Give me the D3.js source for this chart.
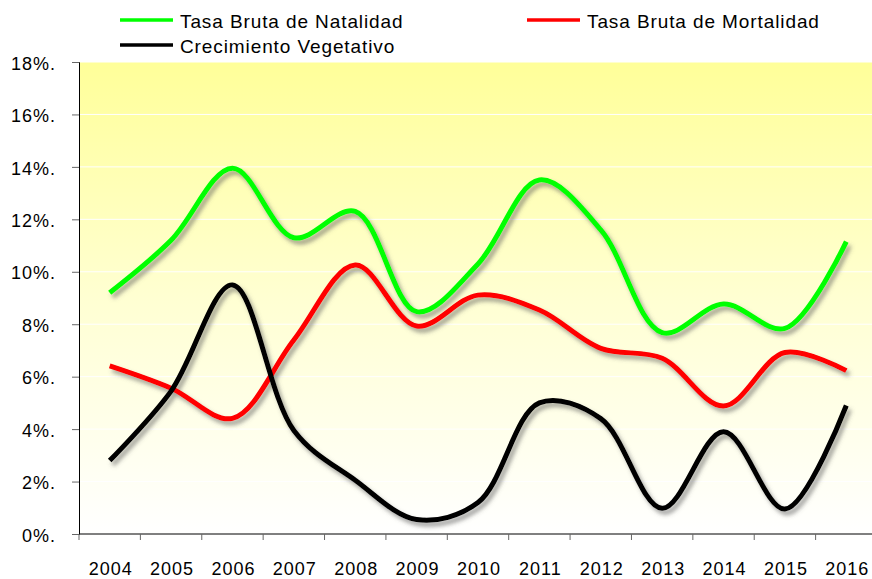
<!DOCTYPE html>
<html>
<head>
<meta charset="utf-8">
<script src="https://cdn.jsdelivr.net/npm/d3@7"></script>
<style>
  body { margin: 0; background: #fff; }
  text { font-family: Arial, "Liberation Sans", sans-serif; fill: #000; }
</style>
</head>
<body>
<svg id="chart" width="872" height="579"></svg>
<script>
var years = ["2004","2005","2006","2007","2008","2009","2010","2011","2012","2013","2014","2015","2016"];
var natalidad = [9.2, 11.2, 13.95, 11.3, 12.3, 8.48, 10.3, 13.5, 11.6, 7.68, 8.77, 7.84, 11.15];
var mortalidad = [6.41, 5.56, 4.41, 7.4, 10.26, 7.93, 9.11, 8.54, 7.08, 6.7, 4.88, 6.92, 6.23];
var crecimiento = [2.8, 5.45, 9.5, 3.95, 2.05, 0.55, 1.2, 5.0, 4.4, 0.98, 3.9, 0.95, 4.9];
var yTicks = [0, 2, 4, 6, 8, 10, 12, 14, 16, 18];

var series = [
  {name: "Tasa Bruta de Natalidad", values: natalidad, color: "#00ff00"},
  {name: "Tasa Bruta de Mortalidad", values: mortalidad, color: "#ff0000"},
  {name: "Crecimiento Vegetativo", values: crecimiento, color: "#000000"}
];

var svg = d3.select("svg#chart");
var plotLeft = 79, plotTop = 62, plotBottom = 534, plotRight = 877;

var x = d3.scaleBand().domain(years).range([plotLeft, plotRight]);
var y = d3.scaleLinear().domain([0, 18]).range([plotBottom, plotTop]);

var defs = svg.append("defs");
var grad = defs.append("linearGradient")
   .attr("id", "bg").attr("x1", 0).attr("y1", 0).attr("x2", 0).attr("y2", 1);
grad.append("stop").attr("offset", "0%").attr("stop-color", "#ffff99");
grad.append("stop").attr("offset", "50%").attr("stop-color", "#ffffd2");
grad.append("stop").attr("offset", "100%").attr("stop-color", "#ffffff");

var shadow = defs.append("filter").attr("id", "shadow")
   .attr("x", "-10%").attr("y", "-10%").attr("width", "130%").attr("height", "130%");
shadow.append("feDropShadow")
   .attr("dx", 3).attr("dy", 4)
   .attr("stdDeviation", 2)
   .attr("flood-color", "#555")
   .attr("flood-opacity", 0.55);

svg.append("rect")
   .attr("x", plotLeft).attr("y", plotTop)
   .attr("width", 872 - plotLeft).attr("height", plotBottom - plotTop)
   .attr("fill", "url(#bg)");

// white gridlines
svg.append("g").selectAll("line")
   .data(yTicks.slice(1))
   .join("line")
   .attr("x1", plotLeft).attr("x2", 872)
   .attr("y1", function(d) { return y(d); })
   .attr("y2", function(d) { return y(d); })
   .attr("stroke", "#ffffff")
   .attr("stroke-width", 1);

// y axis
var yAxis = svg.append("g")
   .attr("transform", "translate(" + plotLeft + ",0)")
   .call(d3.axisLeft(y).tickValues(yTicks).tickSize(7).tickPadding(16)
         .tickFormat(function(d) { return d + "%."; }));
yAxis.select(".domain").attr("stroke", "#000");
yAxis.selectAll(".tick line").attr("stroke", "#666");
yAxis.selectAll("text")
   .attr("dy", "0.4em")
   .style("font-size", "18px")
   .style("letter-spacing", "1px")
   .style("font-family", "Arial, 'Liberation Sans', sans-serif")
   .attr("fill", "#000");

// x axis
svg.append("line")
   .attr("x1", plotLeft).attr("x2", 872)
   .attr("y1", plotBottom).attr("y2", plotBottom)
   .attr("stroke", "#000");
svg.append("g").selectAll("line")
   .data(years)
   .join("line")
   .attr("x1", function(d) { return x(d); })
   .attr("x2", function(d) { return x(d); })
   .attr("y1", plotBottom).attr("y2", plotBottom + 6)
   .attr("stroke", "#666");
svg.append("g").selectAll("text")
   .data(years)
   .join("text")
   .attr("x", function(d) { return x(d) + x.bandwidth() / 2 + 1; })
   .attr("y", 575)
   .attr("text-anchor", "middle")
   .style("font-size", "18px")
   .style("letter-spacing", "1px")
   .text(function(d) { return d; });

// lines
var line = d3.line()
   .x(function(d, i) { return x(years[i]) + x.bandwidth() / 2; })
   .y(function(d) { return y(d); })
   .curve(d3.curveCatmullRom.alpha(0.5));

svg.append("g").attr("filter", "url(#shadow)")
   .selectAll("path")
   .data(series)
   .join("path")
   .attr("d", function(s) { return line(s.values); })
   .attr("fill", "none")
   .attr("stroke", function(s) { return s.color; })
   .attr("stroke-width", 5)
   .attr("stroke-linejoin", "round");

// legend
var legendPos = [[120, 20], [527, 20], [120, 45]];
var legend = svg.append("g").selectAll("g")
   .data(series)
   .join("g")
   .attr("transform", function(s, i) { return "translate(" + legendPos[i][0] + "," + legendPos[i][1] + ")"; });
legend.append("line")
   .attr("x1", 0).attr("x2", 53)
   .attr("y1", 0).attr("y2", 0)
   .attr("stroke", function(s) { return s.color; })
   .attr("stroke-width", 3.5);
legend.append("text")
   .attr("x", 60).attr("y", 8)
   .style("font-size", "19px")
   .style("letter-spacing", "0.9px")
   .text(function(s) { return s.name; });
</script>
</body>
</html>
